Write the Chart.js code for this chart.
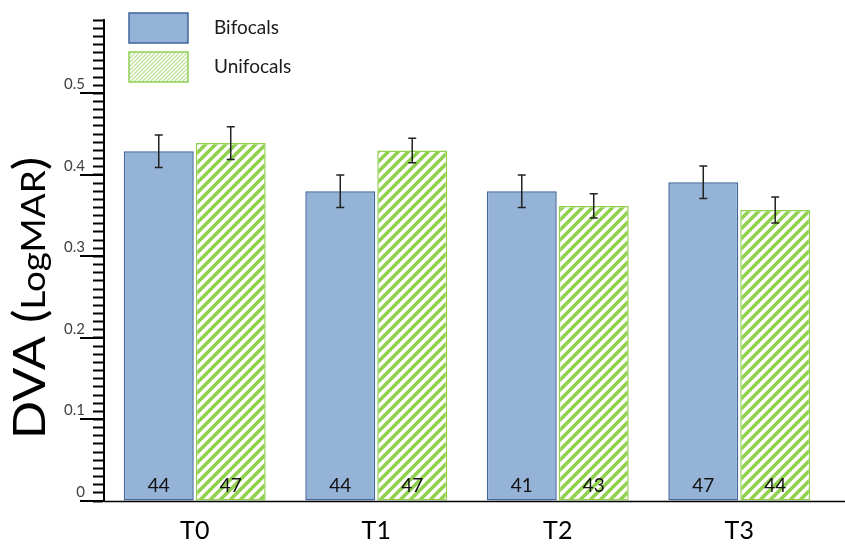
<!DOCTYPE html>
<html>
<head>
<meta charset="utf-8">
<script src="https://cdn.jsdelivr.net/npm/chart.js@4.4.1/dist/chart.umd.min.js"></script>
<style>
  body { margin: 0; background: #fff; }
  #wrap { width: 845px; height: 545px; }
</style>
</head>
<body>
<div id="wrap"><canvas id="myChart"></canvas></div>
<script>
const timepoints = ['T0', 'T1', 'T2', 'T3'];
const bifocals = [0.429, 0.380, 0.380, 0.391];
const unifocals = [0.439, 0.430, 0.362, 0.357];
const bifocalsErr = [0.020, 0.020, 0.020, 0.020];
const unifocalsErr = [0.020, 0.015, 0.015, 0.016];
const bifocalsN = [44, 44, 41, 47];
const unifocalsN = [47, 47, 43, 44];
const yMax = 0.59;
const yMinorStep = 0.01;

const FONT = 'Lato, "Open Sans", sans-serif';
const BLUE = '#95b3d7';
const BLUE_EDGE = '#41669b';
const GREEN = '#92d050';

// diagonal "/" hatch on white
const makeHatch = (size, width, color) => {
    const c = document.createElement('canvas');
    c.width = size;
    c.height = size;
    const g = c.getContext('2d');
    g.fillStyle = '#fff';
    g.fillRect(0, 0, size, size);
    g.strokeStyle = color;
    g.lineWidth = width;
    g.beginPath();
    g.moveTo(-1, size + 1); g.lineTo(size + 1, -1);
    g.moveTo(-1, 1); g.lineTo(1, -1);
    g.moveTo(size - 1, size + 1); g.lineTo(size + 1, size - 1);
    g.stroke();
    return g.createPattern(c, 'repeat');
};

const ctx = document.getElementById('myChart').getContext('2d');
const barHatch = makeHatch(10, 3.6, GREEN);
const legendHatch = makeHatch(4, 1.2, '#b5df8a');

const isMajor = v => Math.abs(v * 10 - Math.round(v * 10)) < 1e-6;

const errorBars = {
    id: 'errorBars',
    afterDatasetsDraw(chart) {
        const c = chart.ctx;
        const y = chart.scales.y;
        c.save();
        c.strokeStyle = '#222';
        c.lineWidth = 1.5;
        chart.data.datasets.forEach((ds, i) => {
            chart.getDatasetMeta(i).data.forEach((bar, j) => {
                const top = y.getPixelForValue(ds.data[j] + ds.errors[j]);
                const bot = y.getPixelForValue(ds.data[j] - ds.errors[j]);
                c.beginPath();
                c.moveTo(bar.x, top); c.lineTo(bar.x, bot);
                c.moveTo(bar.x - 4, top); c.lineTo(bar.x + 4, top);
                c.moveTo(bar.x - 4, bot); c.lineTo(bar.x + 4, bot);
                c.stroke();
            });
        });
        // sample sizes at the foot of each bar
        c.fillStyle = '#111';
        c.font = '19px ' + FONT;
        c.textAlign = 'center';
        c.textBaseline = 'middle';
        chart.data.datasets.forEach((ds, i) => {
            chart.getDatasetMeta(i).data.forEach((bar, j) => {
                c.fillText(String(ds.counts[j]), bar.x, y.getPixelForValue(0) - 15);
            });
        });
        c.restore();
    }
};

const extras = {
    id: 'extras',
    afterDraw(chart) {
        const c = chart.ctx;
        const y = chart.scales.y;
        const area = chart.chartArea;
        c.save();
        // long major ticks
        c.strokeStyle = '#000';
        c.lineWidth = 2;
        y.ticks.forEach(t => {
            if (!isMajor(t.value)) return;
            const py = Math.round(y.getPixelForValue(t.value));
            c.beginPath();
            c.moveTo(y.right - 24, py);
            c.lineTo(y.right, py);
            c.stroke();
        });
        // x axis runs to the edge
        c.lineWidth = 1.5;
        c.beginPath();
        c.moveTo(area.left, area.bottom + 0.5);
        c.lineTo(chart.width, area.bottom + 0.5);
        c.stroke();

        // y title with mixed sizes, slightly stretched along the text
        c.translate(45, 298);
        c.rotate(-Math.PI / 2);
        c.scale(1.15, 1);
        const parts = [['DVA (', 44], ['LogMAR', 32], [')', 44]];
        let total = 0;
        parts.forEach(p => { c.font = p[1] + 'px ' + FONT; total += c.measureText(p[0]).width; });
        let x = -total / 2;
        c.fillStyle = '#000';
        c.textBaseline = 'alphabetic';
        parts.forEach(p => {
            c.font = p[1] + 'px ' + FONT;
            c.fillText(p[0], x, 0);
            x += c.measureText(p[0]).width;
        });
        c.setTransform(1, 0, 0, 1, 0, 0);

        // legend
        c.font = '19px ' + FONT;
        c.textBaseline = 'middle';
        c.textAlign = 'left';
        chart.data.datasets.forEach((ds, i) => {
            const bx = 129, by = 13 + i * 39;
            c.fillStyle = i === 0 ? BLUE : legendHatch;
            c.fillRect(bx, by, 59, 30);
            c.strokeStyle = ds.borderColor;
            c.lineWidth = 1.5;
            c.strokeRect(bx, by, 59, 30);
            c.fillStyle = '#1a1a1a';
            c.fillText(ds.label, 214, by + 15);
        });
        c.restore();
    }
};

const chart = new Chart(ctx, {
    type: 'bar',
    data: {
        labels: timepoints,
        datasets: [
            {
                label: 'Bifocals',
                data: bifocals,
                errors: bifocalsErr,
                counts: bifocalsN,
                backgroundColor: BLUE,
                borderColor: BLUE_EDGE,
                borderWidth: 1.5,
                borderSkipped: false
            },
            {
                label: 'Unifocals',
                data: unifocals,
                errors: unifocalsErr,
                counts: unifocalsN,
                backgroundColor: barHatch,
                borderColor: GREEN,
                borderWidth: 1.5,
                borderSkipped: false
            }
        ]
    },
    options: {
        responsive: true,
        maintainAspectRatio: false,
        animation: false,
        layout: { padding: { top: 20, right: 15, left: 0, bottom: 0 } },
        categoryPercentage: 0.793,
        barPercentage: 0.972,
        plugins: {
            legend: { display: false },
            tooltip: { enabled: false }
        },
        scales: {
            x: {
                afterFit: s => { s.height = 44; },
                grid: { display: false, drawTicks: false },
                border: { display: false },
                ticks: {
                    color: '#000',
                    font: { family: FONT, size: 25 },
                    padding: 15
                }
            },
            y: {
                min: 0,
                max: yMax,
                afterFit: s => { s.width = 104; },
                grid: {
                    drawOnChartArea: false,
                    tickLength: 11,
                    tickColor: '#000',
                    tickWidth: 2
                },
                border: { display: true, color: '#000', width: 2 },
                ticks: {
                    stepSize: yMinorStep,
                    autoSkip: false,
                    padding: 8,
                    labelOffset: -9,
                    color: '#404040',
                    font: { family: FONT, size: 15 },
                    callback: v => isMajor(v) ? String(Math.round(v * 10) / 10) : ''
                }
            }
        }
    },
    plugins: [errorBars, extras]
});
</script>
</body>
</html>
